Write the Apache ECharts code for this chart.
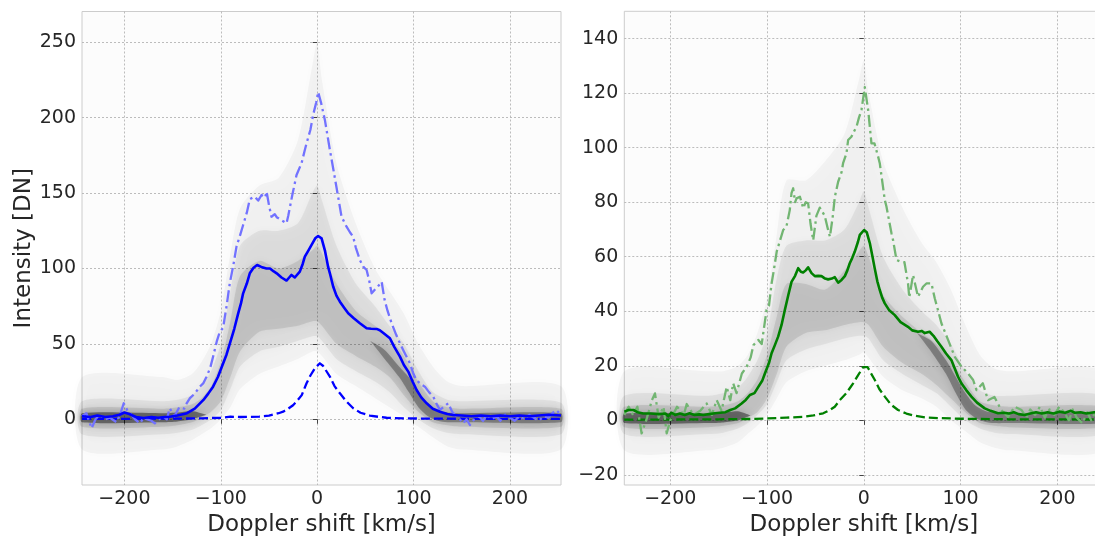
<!DOCTYPE html>
<html>
<head>
<meta charset="utf-8">
<script src="https://cdn.jsdelivr.net/npm/echarts@6/dist/echarts.min.js"></script>
<style>
  html, body { margin: 0; padding: 0; background: #ffffff; }
  #chart { width: 1095px; height: 536px; }
</style>
</head>
<body>
<div id="chart"></div>
<script>
// ---- Tick values ----
const xTicks = [-200, -100, 0, 100, 200];
const leftYTicks = [0, 50, 100, 150, 200, 250];
const rightYTicks = [-20, 0, 20, 40, 60, 80, 100, 120, 140];

// ---- Left panel (blue): mean profile, upper profile, core component ----
const leftMean = [[-244,2],[-235,1.5],[-228,2.5],[-220,1.5],[-212,2],[-205,3],[-200,4.5],[-195,3.5],[-188,1.5],[-180,0.8],[-172,1.5],[-165,1],[-158,1.5],[-153,1.7],[-145,2.5],[-135,4],[-127,7],[-118,12.8],[-113,17],[-108,21.6],[-103,28],[-97.6,37],[-94,43],[-90.7,50],[-86,60],[-82,70],[-79,77],[-76.8,83.5],[-73,90],[-69.9,96.8],[-66,100.5],[-62.3,102.3],[-58,101],[-52.6,100],[-49,100],[-45,98],[-42,96.8],[-37,94],[-31.8,92],[-29,94],[-26.6,95.7],[-23.2,94],[-18,97.9],[-15,103],[-12.8,107.8],[-9,112],[-5.8,115.6],[-2,120],[1,121.5],[4.6,120],[8,112],[11.4,101],[13.2,96.8],[16.6,88],[20,82],[23.6,78],[28,74],[32.2,70.3],[38,67],[44.3,63.7],[51.3,60.3],[56,60],[61.7,59.9],[65,59],[70,56.5],[75.5,53.7],[80,48],[85.9,41.5],[90,36],[94.5,31.6],[99,25],[103.2,19.4],[108,14.5],[113.6,10.6],[120,7],[127.4,5],[135,3.5],[141,2.8],[150,2.5],[160,2],[170,2.5],[180,2],[190,2.5],[200,2],[210,2.5],[220,2],[230,2.5],[240,3],[253,2.5]];

const leftUpper = [[-244,2],[-239.5,4],[-234,-6],[-230,0],[-226,3],[-220,0],[-215,1],[-208,-2],[-204,4],[-200.7,10.6],[-197,6],[-194,4],[-189,0],[-184,-2.7],[-180,1],[-177,0],[-172,-1],[-168.5,-2.7],[-164,0],[-160,2],[-156,0],[-153,7.3],[-148,2],[-143,8],[-138,7],[-136,10],[-132,14],[-127,17],[-121.8,21.6],[-118,24],[-114.9,28],[-111,34],[-108,41.5],[-104,52],[-101,58],[-97.6,60.6],[-94,75],[-90.7,90],[-87,102],[-83.7,114.5],[-80,122],[-76.8,128.8],[-73,137],[-69.9,145.9],[-67,147],[-64.7,147.6],[-61.2,145],[-57.7,148.7],[-54,147],[-52.5,151],[-50,142],[-47.4,134.3],[-44,136],[-42,134],[-37,132],[-31.8,130],[-30,135],[-26,148],[-21.4,162],[-16.2,169.8],[-12.8,178.6],[-11,183],[-7,192],[-4.2,201.8],[-1,210],[1,217],[4,210],[8,198.5],[13.2,178.6],[17,165],[20,154],[25.3,134.3],[30.5,127.7],[34,124],[37.4,121],[40,114],[44.3,105.6],[48,101],[51.3,99],[54,92],[56.5,83.5],[60,86],[63,88],[66.9,91.2],[70,79],[73,72],[77.3,63.6],[82,56],[85.9,50.4],[90,45],[96.3,37],[100,30],[103,26],[108,23],[111.8,21.6],[116,18],[120.5,15],[124,10],[127.4,6.2],[131,8],[136,10.6],[140,5],[144.7,1.7],[148,0],[151.6,-2.7],[155,0],[158.5,-3.8],[163,0],[168,2],[172,-1],[176,3],[181,0],[186,2],[190,-1],[195,3],[200,1],[205,-1],[210,2],[215,0],[220,3],[225,1],[230,-1],[235,2],[240,1],[244,4],[248,6],[253,3]];

const leftCore = [[-244,0.2],[-200,0.3],[-150,0.4],[-120,0.6],[-100,1],[-90,1.7],[-80,1.5],[-70,1.6],[-60,1.8],[-50,2.4],[-40,4],[-35.3,5],[-30,7],[-25,9.3],[-21.4,11.7],[-16,16],[-11,23.9],[-7,29],[-2.4,33.8],[2.8,37.1],[6,35.5],[10,31.5],[13.2,28.3],[18,22],[23.6,17.2],[30,12],[37.4,7.3],[45,4.3],[54.7,2.4],[65,1.5],[72,1],[90,0.6],[120,0.4],[160,0.3],[253,0.2]];

// ---- Right panel (green): mean profile, upper profile, core component ----
const rightMean = [[-247.5,3.2],[-243,3.8],[-238,3.8],[-234,3],[-228,2.5],[-220,2.5],[-212,2.3],[-205,2.5],[-202,1.5],[-199,2.8],[-195,2],[-190,2.5],[-185,2],[-180,2.6],[-175,2],[-170,2.2],[-166,2],[-160,2.3],[-153.8,2.6],[-148.7,2.8],[-143,3],[-138,3.8],[-133,4.4],[-126.3,6.2],[-122,7.5],[-117.7,9.3],[-113,10],[-109,12.3],[-105,14.5],[-102.2,17.2],[-98,21],[-95.3,24.6],[-92,27.5],[-88.5,30.7],[-85,35],[-81.6,40.5],[-78,46],[-74.7,50.8],[-71,53],[-67.8,55.8],[-65,54.5],[-62.7,54.2],[-60,55],[-57.5,56.1],[-54,54],[-50.6,52.9],[-47,53],[-43.7,52.9],[-40,52],[-36.9,51.7],[-33,52],[-30,52.5],[-26.5,50.5],[-23,51.5],[-19.6,52.9],[-17,55],[-14.5,57.6],[-12,59.5],[-9.3,61.9],[-6,65.5],[-4.1,68],[0.3,69.8],[3,69],[6.2,65],[9,60],[11.4,55.5],[14,51],[16.5,47.8],[19,45],[21.7,42.9],[26,40.5],[32,38.6],[38,36],[45.7,34.3],[50,33],[56,32.5],[60,32.8],[63,32],[68,32.5],[72,31],[76,29],[80.2,27],[85,24.5],[90.5,22.1],[94,19],[97.4,16],[101,13.5],[106,11],[111.2,8.7],[117,6.5],[125,4.4],[131,3.5],[138.7,2.6],[145,2.8],[150,2.5],[155,3],[160,2.3],[166,2],[172,2.5],[178,3],[184,2.5],[190,3],[196,2.5],[202,3.2],[208,2.8],[214,3.5],[218,2.8],[224,3],[230,2.5],[238,3],[247.5,2.6]];

const rightUpper = [[-247.5,2],[-243,5],[-238.5,2],[-234,5],[-229.6,-4.8],[-224,1],[-219,7.4],[-215.8,9.9],[-212,1],[-207,5],[-203.7,-4.8],[-200,0],[-193,5],[-186,2],[-183,6],[-176,2],[-169,3.5],[-162.4,6.2],[-157,2],[-152,7.4],[-147,3.5],[-141.7,12.3],[-138,7.4],[-135,13.6],[-131.5,10],[-126,17.2],[-121,19.7],[-117,23],[-114,27.6],[-109,29.5],[-105.5,28],[-100.5,40.5],[-98,42],[-95.3,50.2],[-93,55],[-90,61.9],[-88.5,62.5],[-83.3,69.8],[-80,71],[-76.5,77.1],[-74.7,83.3],[-73,85.1],[-71,80],[-69.5,81.4],[-66,82],[-62.6,77.8],[-60,80],[-57.5,79.5],[-55,72],[-52.3,66],[-49,75],[-45.5,78],[-42,76],[-40.4,75],[-37,70],[-35,67.3],[-32,75],[-29.9,82],[-26.5,87.5],[-23,91],[-21.4,94.3],[-17.9,97.9],[-16.2,102.8],[-12.8,104],[-10,106],[-7.5,107.7],[-5,111],[-2.4,113.8],[1,122.2],[4.5,113.8],[7.9,101.6],[11,101.6],[14.8,96.7],[16.5,94.3],[21.7,80.8],[23.4,78.4],[28.6,68.6],[30.3,66],[33.8,58.8],[38,58.2],[42,58],[45.7,50.2],[47,45],[50.9,53.3],[56,45.3],[61.2,49],[64.7,50.2],[69.9,50.2],[73.3,44.8],[77,40],[80.2,35.6],[87.1,29.5],[94,23.3],[100.9,19.7],[107.8,17.2],[113,14.8],[116.5,11.1],[123,13.6],[128.4,7.4],[135,8.6],[142,3.8],[149,1.3],[156,5],[163,3.8],[168,1],[172,4],[177,2],[182,5],[187,1],[192,4],[197,2],[202,5],[207,3],[212,0],[216,4],[220,1],[226,-1.1],[231,3],[235,0],[238,2],[247.5,3]];

const rightCore = [[-247.5,0.3],[-200,0.3],[-150,0.4],[-120,0.5],[-100,0.7],[-80,1],[-62.6,1.3],[-52,1.8],[-42,2.6],[-35,3.8],[-30,5],[-24.8,7.4],[-18,10],[-11,13.6],[-6,16.5],[-0.7,19.5],[1,20],[4,19.5],[7,17.5],[11.4,14.8],[16,11.5],[21.7,8.7],[28,5.8],[35.4,3.8],[44,2.5],[52.6,1.7],[65,1],[80,0.8],[100,0.6],[150,0.4],[247.5,0.3]];

// ---- Spread of individual spectra: [velocity, low, high] per envelope ----
const leftSpreadOuter = [[-244,-20,28],[-160,-20,28],[-145,-18,26],[-130,-14,30],[-120,-10,38],[-110,-6,50],[-100,0,72],[-90,8,110],[-80,20,140],[-60,30,155],[-40,35,160],[-20,40,185],[-5,45,235],[0,45,250],[5,42,225],[20,30,170],[40,22,130],[60,14,100],[75,8,85],[90,2,70],[105,-5,50],[120,-12,35],[135,-18,25],[150,-20,22],[253,-20,22]];
const leftSpreadMid = [[-244,-10,12],[-160,-10,12],[-145,-9,13],[-130,-7,16],[-120,-4,22],[-110,0,32],[-100,6,50],[-90,20,85],[-80,35,115],[-60,45,125],[-40,48,125],[-20,52,130],[-5,55,150],[0,55,155],[5,52,145],[20,40,115],[40,32,90],[60,25,75],[75,18,62],[90,8,50],[105,0,32],[120,-6,18],[135,-9,13],[150,-10,12],[253,-10,11]];
const leftSpreadInner = [[-244,-5,7],[-160,-5,7],[-145,-4,8],[-130,-2,10],[-120,1,14],[-110,5,22],[-100,12,38],[-90,28,65],[-80,45,95],[-60,58,105],[-40,60,100],[-20,62,105],[-5,65,112],[0,65,115],[5,62,110],[20,50,90],[40,42,72],[60,35,62],[75,28,54],[90,16,42],[105,5,25],[120,-2,12],[135,-4,8],[150,-5,7],[253,-5,7]];
const leftDenseBlue = [[-244,-2,4],[-160,-2,4],[-145,-1.5,4.5],[-130,0,5.5],[-115,3,3]];
const leftDenseRed = [[55,52,52],[70,40,46],[85,28,35],[95,18,28],[105,8,18],[115,2,10],[125,-1,5.5],[135,-2,4.5],[150,-2,4],[253,-2,4]];

const rightSpreadOuter = [[-247.5,-11,18],[-160,-11,18],[-145,-10,18],[-130,-8,20],[-120,-5,24],[-110,-2,32],[-100,2,45],[-90,8,68],[-80,14,88],[-60,18,88],[-40,20,95],[-20,22,105],[-5,24,125],[0,25,132],[5,23,120],[20,16,95],[40,11,78],[60,8,65],[75,5,58],[90,0,48],[105,-4,35],[120,-8,24],[135,-10,19],[150,-11,18],[247.5,-11,18]];
const rightSpreadMid = [[-247.5,-5,9],[-160,-5,9],[-145,-4.5,10],[-130,-3,12],[-120,-1,16],[-110,2,22],[-100,6,32],[-90,14,52],[-80,22,64],[-60,26,66],[-40,28,66],[-20,30,70],[-5,31,80],[0,31,84],[5,30,78],[20,22,60],[40,17,48],[60,13,40],[75,10,35],[90,5,28],[105,0,18],[120,-3,11],[135,-4.5,9],[150,-5,9],[247.5,-5,9]];
const rightSpreadInner = [[-247.5,-2.5,5],[-160,-2.5,5],[-145,-2,5.5],[-130,-1,7],[-120,1,10],[-110,3,15],[-100,8,24],[-90,17,38],[-80,27,50],[-60,32,50],[-40,33,48],[-20,35,55],[-5,36,62],[0,36,64],[5,35,60],[20,27,46],[40,21,38],[60,17,32],[75,13,28],[90,8,22],[105,3,14],[120,-1,7],[135,-2,5.5],[150,-2.5,5],[247.5,-2.5,5]];
const rightDenseBlue = [[-247.5,-1,2.5],[-160,-1,2.5],[-145,-0.8,2.8],[-130,0,3.3],[-117,1.8,1.8]];
const rightDenseRed = [[55,32,32],[70,25,29],[85,17,22],[95,10,16],[105,4,10],[115,1,5.5],[125,-0.5,3.5],[135,-1,2.8],[150,-1,2.5],[247.5,-1,2.5]];

// ---- Styling helpers ----
const FONT = 'DejaVu Sans';
const TEXT = '#262626';
const minusFmt = v => String(v).replace('-', '\u2212');

function xAxisCfg(gridIndex, min, max) {
  return {
    type: 'value', gridIndex, min, max,
    minInterval: 100, maxInterval: 100,
    name: 'Doppler shift [km/s]', nameLocation: 'middle', nameGap: 26,
    nameTextStyle: { fontFamily: FONT, fontSize: 23, color: TEXT },
    axisLine: { show: false },
    axisTick: { show: true, inside: false, length: 4.5, customValues: xTicks, lineStyle: { color: '#444', width: 1 } },
    axisLabel: { show: true, margin: 5, customValues: xTicks, fontFamily: FONT, fontSize: 19, color: TEXT, formatter: minusFmt },
    splitLine: { show: true, lineStyle: { color: '#b5b5b5', width: 0.9, type: [2, 2] } }
  };
}
function yAxisCfg(gridIndex, min, max, step, ticks, name) {
  return {
    type: 'value', gridIndex, min, max,
    minInterval: step, maxInterval: step,
    name: name || '', nameLocation: 'middle', nameGap: 46,
    nameTextStyle: { fontFamily: FONT, fontSize: 23, color: TEXT },
    axisLine: { show: false },
    axisTick: { show: true, inside: false, length: 4.5, customValues: ticks, lineStyle: { color: '#444', width: 1 } },
    axisLabel: { show: true, margin: 6, customValues: ticks, fontFamily: FONT, fontSize: 19, color: TEXT, formatter: minusFmt },
    splitLine: { show: true, lineStyle: { color: '#b5b5b5', width: 0.9, type: [2, 2] } }
  };
}

function line(idx, data, color, type, width, z) {
  return {
    type: 'line', xAxisIndex: idx, yAxisIndex: idx, data,
    symbol: 'none', showSymbol: false, silent: true, animation: false, clip: true,
    lineStyle: { color, width, type, cap: 'butt', join: 'round' }, z
  };
}

// One filled envelope polygon per spread band, mapped through the axes.
function spread(idx, band, alpha, z) {
  return {
    type: 'custom', xAxisIndex: idx, yAxisIndex: idx, silent: true, animation: false, z,
    data: band.map(b => [b[0], b[1], b[2]]),
    encode: { x: 0, y: [1, 2] },
    renderItem: (params, api) => {
      if (params.dataIndex !== 0) return null;
      const pts = [];
      for (let i = 0; i < band.length; i++) pts.push(api.coord([band[i][0], band[i][1]]));
      for (let i = band.length - 1; i >= 0; i--) pts.push(api.coord([band[i][0], band[i][2]]));
      return {
        type: 'polygon', shape: { points: pts, smooth: 0.25 },
        style: { fill: 'rgba(0,0,0,' + alpha + ')', shadowBlur: 8, shadowColor: 'rgba(0,0,0,0.45)' }
      };
    }
  };
}

const BLUE = '#0000ff', BLUE_LIGHT = '#7272ff';
const GREEN = '#008000', GREEN_LIGHT = '#72b572';
const DASH = [9, 4], DASHDOT = [12, 4, 2.5, 4];

const chart = echarts.init(document.getElementById('chart'), null, { renderer: 'canvas' });
chart.setOption({
  animation: false,
  backgroundColor: '#ffffff',
  grid: [
    { left: 82, top: 11.5, width: 479, height: 473.5, outerBoundsMode: 'none', containLabel: false, show: true, backgroundColor: '#fcfcfc', borderColor: '#cccccc', borderWidth: 1 },
    { left: 624.3, top: 11.3, width: 479, height: 473.7, outerBoundsMode: 'none', containLabel: false, show: true, backgroundColor: '#fcfcfc', borderColor: '#cccccc', borderWidth: 1 }
  ],
  xAxis: [ xAxisCfg(0, -244, 253), xAxisCfg(1, -247.5, 247.5) ],
  yAxis: [
    yAxisCfg(0, -43.6, 270.4, 50, leftYTicks, 'Intensity [DN]'),
    yAxisCfg(1, -23.7, 150, 20, rightYTicks, '')
  ],
  series: [
    spread(0, leftSpreadOuter, 0.03, 1),
    spread(0, leftSpreadMid, 0.06, 2),
    spread(0, leftSpreadInner, 0.09, 3),
    spread(0, leftDenseBlue, 0.42, 4),
    spread(0, leftDenseRed, 0.3, 4),
    line(0, leftCore, BLUE, DASH, 2.3, 10),
    line(0, leftUpper, BLUE_LIGHT, DASHDOT, 2.3, 11),
    line(0, leftMean, BLUE, 'solid', 2.6, 12),

    spread(1, rightSpreadOuter, 0.03, 1),
    spread(1, rightSpreadMid, 0.06, 2),
    spread(1, rightSpreadInner, 0.09, 3),
    spread(1, rightDenseBlue, 0.42, 4),
    spread(1, rightDenseRed, 0.3, 4),
    line(1, rightCore, GREEN, DASH, 2.3, 10),
    line(1, rightUpper, GREEN_LIGHT, DASHDOT, 2.3, 11),
    line(1, rightMean, GREEN, 'solid', 2.6, 12)
  ]
});
</script>
</body>
</html>
